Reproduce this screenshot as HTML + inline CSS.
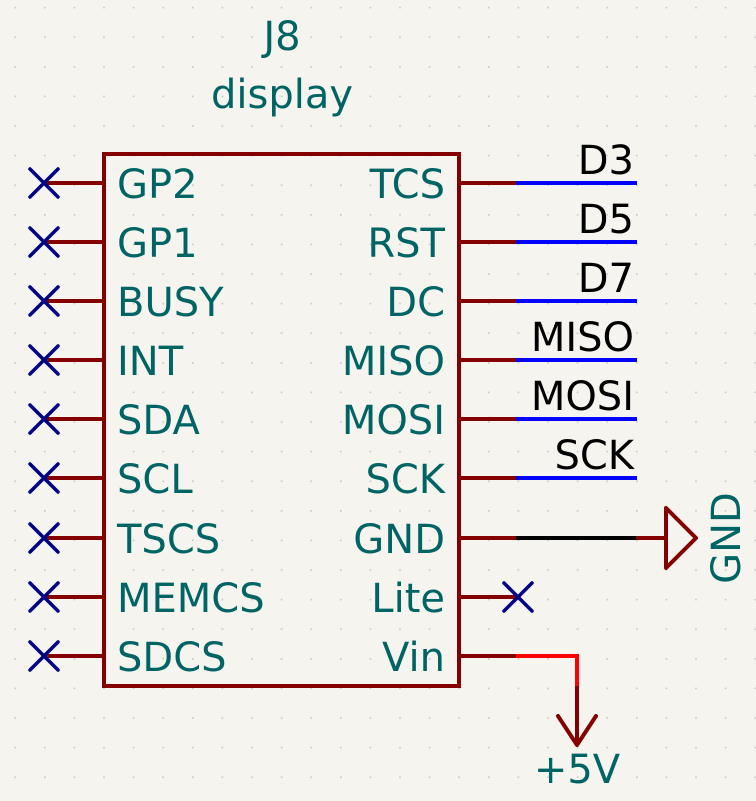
<!DOCTYPE html>
<html><head><meta charset="utf-8"><style>
html,body{margin:0;padding:0;background:#f5f4ef;}
svg{display:block}
text{font-family:"DejaVu Sans","Liberation Sans",sans-serif;font-size:40px;}
</style></head><body>
<svg width="756" height="801" viewBox="0 0 756 801" xmlns="http://www.w3.org/2000/svg">
<defs>
<pattern id="g" x="14.4" y="6.8" width="29.6" height="29.6" patternUnits="userSpaceOnUse">
<rect x="0" y="0" width="1.6" height="1.6" fill="#c9c9c4"/>
</pattern>
</defs>
<rect width="756" height="801" fill="#f5f4ef"/>
<rect width="756" height="801" fill="url(#g)"/>
<text x="282" y="50" text-anchor="middle" fill="#006464" font-size="38">J8</text>
<text x="282" y="108" text-anchor="middle" fill="#006464" font-size="38">display</text>
<rect x="104" y="154" width="355" height="532" fill="none" stroke="#840000" stroke-width="4"/>
<g stroke="#840000" stroke-width="4">
<line x1="44" y1="183" x2="104" y2="183"/><line x1="44" y1="242" x2="104" y2="242"/>
<line x1="44" y1="301" x2="104" y2="301"/><line x1="44" y1="360" x2="104" y2="360"/>
<line x1="44" y1="419" x2="104" y2="419"/><line x1="44" y1="478" x2="104" y2="478"/>
<line x1="44" y1="538" x2="104" y2="538"/><line x1="44" y1="597" x2="104" y2="597"/>
<line x1="44" y1="656" x2="104" y2="656"/>
<line x1="459" y1="183" x2="516" y2="183"/><line x1="459" y1="242" x2="516" y2="242"/>
<line x1="459" y1="301" x2="516" y2="301"/><line x1="459" y1="360" x2="516" y2="360"/>
<line x1="459" y1="419" x2="516" y2="419"/><line x1="459" y1="478" x2="516" y2="478"/>
<line x1="459" y1="538" x2="516" y2="538"/><line x1="459" y1="597" x2="516" y2="597"/>
<line x1="459" y1="656" x2="516" y2="656"/>
<line x1="636" y1="538" x2="666" y2="538"/>
<polygon points="666,508 696,538 666,568" fill="none" stroke-linejoin="round"/>
<line x1="577" y1="686" x2="577" y2="745"/>
<polyline points="558,716 577,745 596,716" fill="none" stroke-linecap="round" stroke-linejoin="round"/>
</g>
<g stroke="#0000ff" stroke-width="4">
<line x1="516" y1="183" x2="637" y2="183"/><line x1="516" y1="242" x2="637" y2="242"/>
<line x1="516" y1="301" x2="637" y2="301"/><line x1="516" y1="360" x2="637" y2="360"/>
<line x1="516" y1="419" x2="637" y2="419"/><line x1="516" y1="478" x2="637" y2="478"/>
</g>
<line x1="516" y1="538" x2="636" y2="538" stroke="#000" stroke-width="4"/>
<polyline points="516,656 577,656 577,686" fill="none" stroke="#ff0000" stroke-width="4"/>
<g stroke="#000084" stroke-width="3.5" stroke-linecap="round">
<path d="M30,169L58,197M58,169L30,197"/><path d="M30,228L58,256M58,228L30,256"/>
<path d="M30,287L58,315M58,287L30,315"/><path d="M30,346L58,374M58,346L30,374"/>
<path d="M30,405L58,433M58,405L30,433"/><path d="M30,464L58,492M58,464L30,492"/>
<path d="M30,524L58,552M58,524L30,552"/><path d="M30,583L58,611M58,583L30,611"/>
<path d="M30,642L58,670M58,642L30,670"/>
<path d="M504,583L532,611M532,583L504,611"/>
</g>
<g fill="#006464">
<text x="117" y="198">GP2</text><text x="117" y="257">GP1</text>
<text x="117" y="316">BUSY</text><text x="117" y="375">INT</text>
<text x="117" y="434">SDA</text><text x="117" y="493">SCL</text>
<text x="117" y="553">TSCS</text><text x="117" y="612">MEMCS</text>
<text x="117" y="671">SDCS</text>
<g text-anchor="end">
<text x="445" y="198">TCS</text><text x="445" y="257">RST</text>
<text x="445" y="316">DC</text><text x="445" y="375">MISO</text>
<text x="445" y="434">MOSI</text><text x="445" y="493">SCK</text>
<text x="445" y="553">GND</text><text x="445" y="612">Lite</text>
<text x="445" y="671">Vin</text>
</g>
<text x="577" y="783" text-anchor="middle">+5V</text>
<text transform="translate(740,538) rotate(-90)" text-anchor="middle">GND</text>
</g>
<g fill="#000" text-anchor="end">
<text x="634" y="174">D3</text><text x="634" y="233">D5</text>
<text x="634" y="292">D7</text><text x="634" y="351">MISO</text>
<text x="634" y="410">MOSI</text><text x="634" y="469">SCK</text>
</g>
</svg>
</body></html>
